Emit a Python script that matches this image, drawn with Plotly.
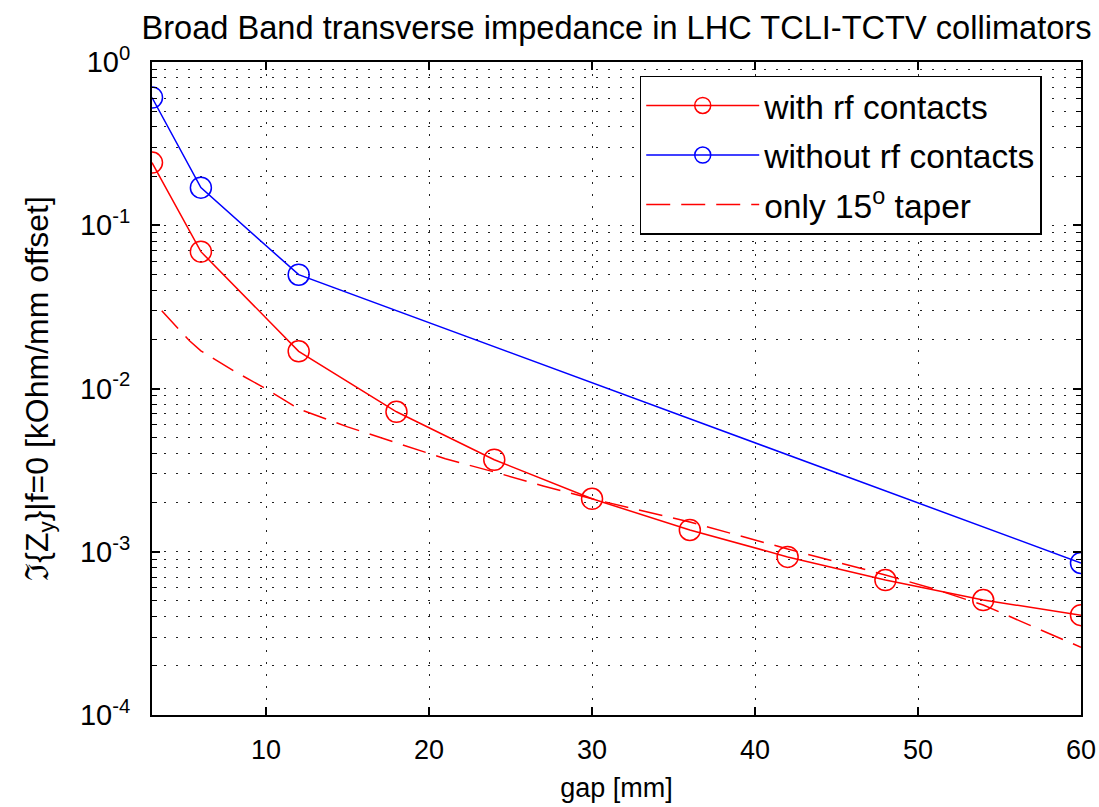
import plotly.graph_objects as go

# ---- data ----
gap_rf = [3, 6, 12, 18, 24, 30, 36, 42, 48, 54, 60]
z_rf = [0.242, 0.0689, 0.0169, 0.0072, 0.00366, 0.00211, 0.00136, 0.00093, 0.000671, 0.000506, 0.000409]

gap_norf = [3, 6, 12, 60]
z_norf = [0.606, 0.170, 0.0498, 0.000854]

gap_taper = [3.6, 5.3, 6, 8, 10, 12, 15, 18, 21, 24, 27, 30, 36, 42, 45, 48, 51, 54, 57, 60]
z_taper = [0.0299, 0.0196, 0.0170, 0.01284, 0.00995, 0.0075, 0.00582, 0.00465, 0.00371, 0.00308,
           0.00253, 0.00211, 0.00152, 0.00104, 0.000866, 0.000721, 0.000591, 0.000472, 0.00035, 0.00026]

x_ticks = [10, 20, 30, 40, 50, 60]
y_ticks = [1e-4, 1e-3, 1e-2, 1e-1, 1e0]
y_ticktext = ["10<sup>-4</sup>", "10<sup>-3</sup>", "10<sup>-2</sup>", "10<sup>-1</sup>", "10<sup>0</sup>"]

FONT = "Liberation Sans, Arial, sans-serif"
RED = "#ff0000"
BLUE = "#0000ff"

W, H = 1099, 807

fig = go.Figure()
fig.add_trace(go.Scatter(
    x=gap_rf, y=z_rf, mode="lines+markers", name="with rf contacts",
    legendgroup="a",
    line=dict(color=RED, width=1.5),
    marker=dict(symbol="circle-open", size=21, color=RED, line=dict(width=1.5, color=RED)),
))
fig.add_trace(go.Scatter(
    x=gap_norf, y=z_norf, mode="lines+markers", name="without rf contacts",
    legendgroup="b",
    line=dict(color=BLUE, width=1.5),
    marker=dict(symbol="circle-open", size=21, color=BLUE, line=dict(width=1.5, color=BLUE)),
))
fig.add_trace(go.Scatter(
    x=gap_taper, y=z_taper, mode="lines", name="only 15<sup>o</sup> taper",
    legendgroup="c",
    line=dict(color=RED, width=1.5, dash="24px,11px"),
))

grid_common = dict(gridcolor="#222222", gridwidth=1.3, griddash="2px,10px")

fig.update_layout(
    width=W, height=H,
    margin=dict(l=152, r=18, t=62, b=92, autoexpand=False),
    paper_bgcolor="white", plot_bgcolor="white",
    font=dict(family=FONT, size=26, color="black"),
    title=dict(
        text="Broad Band transverse impedance in LHC TCLI-TCTV collimators",
        x=0.5, xref="paper", xanchor="center",
        y=1 - 28 / H, yref="container", yanchor="middle",
        font=dict(family=FONT, size=32.6, color="black"),
    ),
    showlegend=True,
    legend=dict(
        x=0.525, y=0.979, xanchor="left", yanchor="top",
        bgcolor="white", bordercolor="black", borderwidth=1.5,
        font=dict(family=FONT, size=33.5, color="black"),
        tracegroupgap=3, itemwidth=113,
    ),
    xaxis=dict(
        range=[3, 60], tickvals=x_ticks, ticks="inside", ticklen=8, tickwidth=1.5,
        tickcolor="black", showline=True, linecolor="black", linewidth=2, mirror="allticks",
        showgrid=True, zeroline=False, ticklabelstandoff=10, automargin=False,
        title=dict(text="gap [mm]", font=dict(size=27), standoff=14),
        tickfont=dict(size=27),
        **grid_common,
    ),
    yaxis=dict(
        type="log", range=[-4, 0], tickvals=y_ticks, ticktext=y_ticktext,
        ticks="inside", ticklen=8, tickwidth=1.5, tickcolor="black",
        showline=True, linecolor="black", linewidth=2, mirror="allticks",
        showgrid=True, zeroline=False, ticklabelstandoff=14, automargin=False,
        tickfont=dict(size=29),
        title=dict(text="\u2111{Z<sub>y</sub>}|f=0 [kOhm/mm offset]", font=dict(size=32), standoff=22),
        minor=dict(dtick="D1", ticks="inside", ticklen=5, tickcolor="black", tickwidth=1.2,
                   showgrid=True, **grid_common),
        **grid_common,
    ),
)

fig.write_html("out.html", config={"displayModeBar": False},
               post_script="document.body.style.margin='0';")
